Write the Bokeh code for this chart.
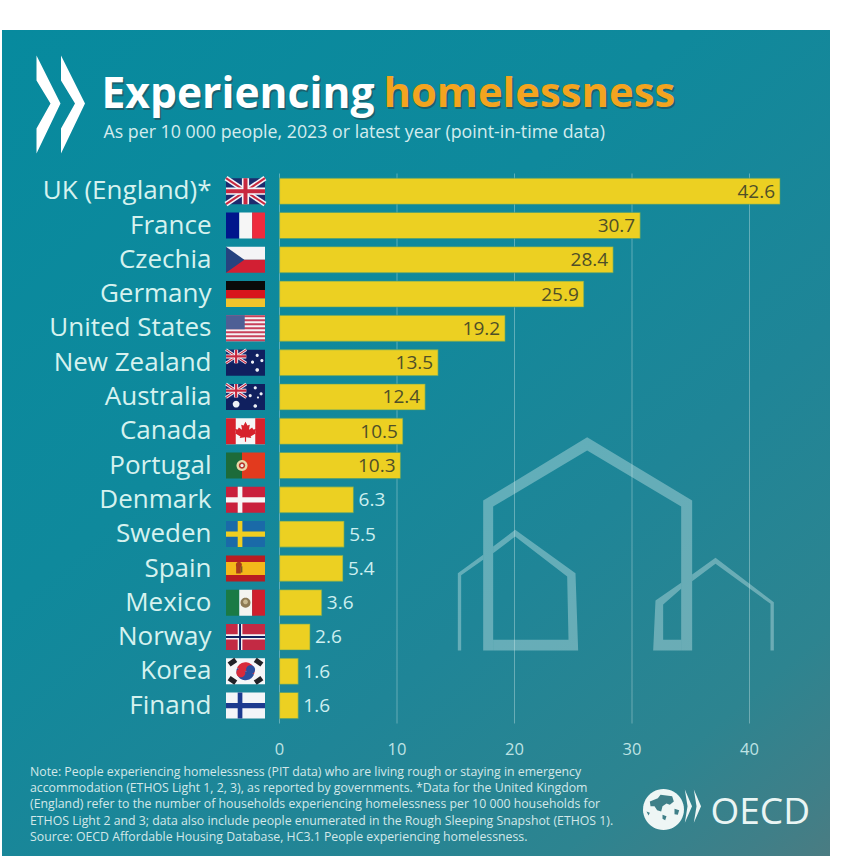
import math
from bokeh.embed import file_html
from bokeh.resources import INLINE
from bokeh.plotting import figure
from bokeh.models import FixedTicker, Label, Range1d

countries = ["UK (England)*", "France", "Czechia", "Germany", "United States", "New Zealand",
             "Australia", "Canada", "Portugal", "Denmark", "Sweden", "Spain", "Mexico",
             "Norway", "Korea", "Finand"]
values = [42.6, 30.7, 28.4, 25.9, 19.2, 13.5, 12.4, 10.5, 10.3, 6.3, 5.5, 5.4, 3.6, 2.6, 1.6, 1.6]
x_ticks = [0, 10, 20, 30, 40]
title_a = "Experiencing"
title_b = "homelessness"
subtitle = "As per 10 000 people, 2023 or latest year (point-in-time data)"
note_lines = [
    "Note: People experiencing homelessness (PIT data) who are living rough or staying in emergency",
    "accommodation (ETHOS Light 1, 2, 3), as reported by governments. *Data for the United Kingdom",
    "(England) refer to the number of households experiencing homelessness per 10 000 households for",
    "ETHOS Light 2 and 3; data also include people enumerated in the Rough Sleeping Snapshot (ETHOS 1).",
    "Source: OECD Affordable Housing Database, HC3.1 People experiencing homelessness.",
]

ZERO_PX, PX_PER_UNIT = 279.0, 11.75
ROW0_PX, ROW_PX = 190.7, 34.29
FONT = "Open Sans"
def X(px): return (px - ZERO_PX) / PX_PER_UNIT
def Y(py): return (py - ROW0_PX) / ROW_PX

rows = list(range(len(countries)))
p = figure(width=850, height=859, output_backend="svg", toolbar_location=None,
           x_range=Range1d(X(0), X(850)), y_range=Range1d(Y(859), Y(0)),
           min_border=0, min_border_left=0, min_border_right=0, min_border_top=0, min_border_bottom=0)
p.outline_line_color = None
p.background_fill_alpha = 0
p.border_fill_alpha = 0
p.styles = {
    "background": "linear-gradient(140deg,#078a9e 0%,#0f899c 38%,#1f8597 65%,#2d8490 85%,#3f7f88 95%,#4a7c82 100%) no-repeat",
    "background-size": "828px 826px",
    "background-position": "2px 30px",
}

# axes live inside the frame
xa = p.xaxis[0]
xa.fixed_location = Y(734)
xa.ticker = FixedTicker(ticks=x_ticks)
xa.axis_line_color = None
xa.major_tick_line_color = None
xa.minor_tick_line_color = None
xa.major_label_text_color = "#bfe3e4"
xa.major_label_text_font = FONT
xa.major_label_text_font_size = "16.5px"
xa.major_label_standoff = 2

LABEL_NUDGE = 0.055
ya = p.yaxis[0]
ya.fixed_location = X(217)
ya.ticker = FixedTicker(ticks=[r - LABEL_NUDGE for r in rows])
ya.major_label_overrides = {r - LABEL_NUDGE: c for r, c in zip(rows, countries)}
ya.axis_line_color = None
ya.major_tick_line_color = None
ya.minor_tick_line_color = None
ya.major_label_text_color = "#d6f2ef"
ya.major_label_text_font = FONT
ya.major_label_text_font_size = "26px"
ya.major_label_standoff = 0

p.ygrid.visible = False
p.xgrid.visible = False
p.segment(x0=x_ticks, x1=x_ticks, y0=Y(173), y1=Y(723), line_color="#cfe8e8", line_alpha=0.4, line_width=1)

# background houses
def hp(pts):
    return [X(440 + a / 3) for a, _ in pts], [Y(420 + b / 3) for _, b in pts]
houses = [
    [(128,690),(128,240),(440,50),(755,240),(755,690),(722,690),(722,258),(440,90),(158,258),(158,690)],
    [(52,690),(52,458),(128,403),(128,418),(62,464),(62,690)],
    [(158,378),(224,328),(405,458),(413,690),(158,690),(158,658),(384,658),(380,468),(224,348),(158,398)],
    [(722,690),(638,690),(645,540),(722,487),(722,505),(668,552),(668,658),(722,658)],
    [(755,462),(825,412),(1000,545),(1000,690),(990,690),(990,550),(825,430),(755,482)],
]
hx, hy = zip(*[hp(h) for h in houses])
p.patches(list(hx), list(hy), fill_color="#d8f0f0", fill_alpha=0.38, line_color=None)

# bars
p.hbar(y=rows, right=values, left=0, height=0.76, fill_color="#ecd022",
       line_color="#3f9a78", line_width=1.2, line_alpha=0.5)

# value labels
inside = [i for i, v in enumerate(values) if v >= 10]
outside = [i for i, v in enumerate(values) if v < 10]
p.text(x=[values[i] for i in inside], y=[rows[i] for i in inside],
       text=[f"{values[i]:.1f}" for i in inside], x_offset=-5, text_align="right",
       text_baseline="middle", text_color="#4f4f28", text_font_size="19px", text_font={"value": FONT})
p.text(x=[values[i] for i in outside], y=[rows[i] for i in outside],
       text=[f"{values[i]:.1f}" for i in outside], x_offset=5, text_align="left",
       text_baseline="middle", text_color="#cdeff0", text_font_size="19px", text_font={"value": FONT})

# flags
FL, FW, FH = 225.5, 39.0, 26.0
fx_, fy_, fc_ = [], [], []
def poly(r, color, pts):
    fx_.append([X(FL + u * FW) for u, _ in pts])
    fy_.append([r + (v - 0.5) * FH / ROW_PX for _, v in pts])
    fc_.append(color)
def rc(r, color, u0, v0, u1, v1):
    poly(r, color, [(u0, v0), (u1, v0), (u1, v1), (u0, v1)])
def disc(r, color, cu, cv, rad, a0=0, a1=360, n=24):
    k = FH / FW
    poly(r, color, [(cu + rad * k * math.cos(math.radians(a0 + (a1 - a0) * i / n)),
                     cv + rad * math.sin(math.radians(a0 + (a1 - a0) * i / n))) for i in range(n + 1)])
def band(r, color, u0, v0, u1, v1, t):
    a = FW * (u1 - u0); b = FH * (v1 - v0); l = math.hypot(a, b)
    du = -b / l * t / FW; dv = a / l * t / FH
    poly(r, color, [(u0 + du, v0 + dv), (u1 + du, v1 + dv), (u1 - du, v1 - dv), (u0 - du, v0 - dv)])
def union(r, u0, v0, u1, v1, s=1.0):
    rc(r, "#1d2b6e", u0, v0, u1, v1)
    band(r, "#f4f4f8", u0, v0, u1, v1, 2.6 * s); band(r, "#f4f4f8", u0, v1, u1, v0, 2.6 * s)
    band(r, "#c8283f", u0, v0, u1, v1, 1.0 * s); band(r, "#c8283f", u0, v1, u1, v0, 1.0 * s)
    cu, cv = (u0 + u1) / 2, (v0 + v1) / 2
    tu, tv = 3.6 * s / FW, 3.6 * s / FH
    rc(r, "#f4f4f8", cu - tu, v0, cu + tu, v1); rc(r, "#f4f4f8", u0, cv - tv, u1, cv + tv)
    tu, tv = 2.0 * s / FW, 2.0 * s / FH
    rc(r, "#c8283f", cu - tu, v0, cu + tu, v1); rc(r, "#c8283f", u0, cv - tv, u1, cv + tv)
def nordic(r, bg, outer, inner=None):
    rc(r, bg, 0, 0, 1, 1)
    rc(r, outer, 0.30, 0, 0.42, 1); rc(r, outer, 0, 0.40, 1, 0.60)
    if inner:
        rc(r, inner, 0.335, 0, 0.385, 1); rc(r, inner, 0, 0.46, 1, 0.54)

union(0, 0, 0, 1, 1)
rc(1, "#00168c", 0, 0, .34, 1); rc(1, "#f6f6f6", .34, 0, .67, 1); rc(1, "#ee2b3d", .67, 0, 1, 1)
rc(2, "#f4f4f6", 0, 0, 1, .5); rc(2, "#d21f33", 0, .5, 1, 1); poly(2, "#26437f", [(0, 0), (.47, .5), (0, 1)])
rc(3, "#0a0a0a", 0, 0, 1, .34); rc(3, "#d8141c", 0, .34, 1, .67); rc(3, "#f1c42c", 0, .67, 1, 1)
rc(4, "#f4f2f4", 0, 0, 1, 1)
for s in range(7):
    rc(4, "#c8405a", 0, s * 2 / 13, 1, (s * 2 + 1) / 13)
rc(4, "#4e5f95", 0, 0, .48, 7 / 13)
for r_, stars in ((5, [(.80, .22, 1.3), (.68, .48, 1.3), (.92, .42, 1.3), (.80, .78, 1.5)]),
                  (6, [(.75, .15, 1.3), (.62, .45, 1.3), (.90, .38, 1.3), (.75, .85, 1.5), (.82, .52, .9), (.26, .78, 2.8)])):
    rc(r_, "#10205f", 0, 0, 1, 1)
    union(r_, 0, 0, .52, .52, .55)
    for su, sv, sr in stars:
        disc(r_, "#eef0f6", su, sv, sr / FH * 1.2)
rc(7, "#f6f6f6", 0, 0, 1, 1); rc(7, "#d6222c", 0, 0, .25, 1); rc(7, "#d6222c", .75, 0, 1, 1)
leaf = [(.5,.14),(.55,.28),(.61,.25),(.59,.44),(.67,.36),(.70,.43),(.77,.41),(.74,.54),(.77,.58),(.63,.70),
        (.65,.76),(.515,.73),(.515,.90),(.485,.90),(.485,.73),(.35,.76),(.37,.70),(.23,.58),(.26,.54),(.23,.41),
        (.30,.43),(.33,.36),(.41,.44),(.39,.25),(.45,.28)]
poly(7, "#d6222c", leaf)
rc(8, "#1d6b3a", 0, 0, .41, 1); rc(8, "#e23a1e", .41, 0, 1, 1)
disc(8, "#e9d9a8", .41, .5, 5.5 / FH); disc(8, "#b8382c", .41, .5, 3.2 / FH); disc(8, "#eef0ee", .41, .5, 1.6 / FH)
nordic(9, "#c9203c", "#f6f6f6")
nordic(10, "#1a6aa8", "#f0ce20")
rc(11, "#b81c22", 0, 0, 1, 1); rc(11, "#f4b81a", 0, .25, 1, .75)
rc(11, "#a93a1c", .26, .36, .38, .70); disc(11, "#a93a1c", .33, .36, 3 / FH); rc(11, "#7a5a20", .38, .42, .42, .66)
rc(12, "#1a7a45", 0, 0, .34, 1); rc(12, "#f4f4f0", .34, 0, .67, 1); rc(12, "#cf1f2e", .67, 0, 1, 1)
disc(12, "#8d7a55", .5, .5, 5 / FH); disc(12, "#c8b890", .5, .47, 2.4 / FH)
nordic(13, "#c32a44", "#f4f4f6", "#12205f")
rc(14, "#f6f6f8", 0, 0, 1, 1)
disc(14, "#d82b3c", .5, .5, 9 / FH, 200, 380); disc(14, "#2a4f9e", .5, .5, 9 / FH, 20, 200)
disc(14, "#d82b3c", .38, .56, 4.5 / FH); disc(14, "#2a4f9e", .63, .44, 4.5 / FH)
for a, b, c, d in ((.08, .24, .25, .06), (.75, .06, .92, .24), (.08, .76, .25, .94), (.75, .94, .92, .76)):
    band(14, "#222228", a, b, c, d, 2.6)
nordic(15, "#f4f5f8", "#1d3a8f")
p.patches(fx_, fy_, fill_color=fc_, line_color=None)

# OECD chevrons (header)
def deco(pts, color, alpha=1.0):
    p.patch([X(a) for a, _ in pts], [Y(b) for _, b in pts], fill_color=color, fill_alpha=alpha, line_color=None)
for dx in (0, 24.5):
    deco([(36 + dx, 55), (60 + dx, 103), (36 + dx, 153), (36 + dx, 128), (50 + dx, 103), (36 + dx, 80)], "#ffffff")

# OECD logo
cx, cy, cr = 663, 809, 20.5
p.patch([X(cx + cr * math.cos(t * math.pi / 24)) for t in range(48)],
        [Y(cy + cr * math.sin(t * math.pi / 24)) for t in range(48)], fill_color="#eef6f5", line_color=None)
def lg(pts):
    return [(630 + a / 3, 775 + b / 3) for a, b in pts]
LAND = "#3f7f88"
deco(lg([(58,78),(82,68),(90,58),(125,62),(130,78),(118,88),(108,84),(96,92),(92,108),(80,104),(72,92),(60,92)]), LAND)
deco(lg([(96,118),(108,122),(104,134),(96,130)]), LAND)
deco(lg([(132,100),(146,104),(142,118),(132,116)]), LAND)
deco(lg([(48,108),(58,112),(54,120)]), LAND)
for a, b in ((163, 190), (190, 217)):
    w = b - a
    deco(lg([(a, 42), (a + w * .8, 92), (a, 142), (a + w * .3, 92)]), "#eef6f5")

def label(px, py, text, size, color, bold=False, align="left", alpha=1.0, baseline="middle"):
    p.add_layout(Label(x=X(px), y=Y(py), text=text, text_font=FONT, text_font_size=size, text_color=color,
                       text_font_style="bold" if bold else "normal", text_align=align,
                       text_baseline=baseline, text_alpha=alpha))

label(102.5, 92, title_a, "42.6px", "#1c5a66", bold=True, alpha=0.85)
label(384.5, 92, title_b, "41.8px", "#1c5a66", bold=True, alpha=0.85)
label(101, 90, title_a, "42.6px", "#ffffff", bold=True)
label(383, 90, title_b, "41.8px", "#f3a41f", bold=True)
label(103, 130, subtitle, "17.8px", "#d4ecee")
for i, line in enumerate(note_lines):
    label(29.5, 771 + i * 16.2, line, "12.3px", "#d3e8e9")
label(710, 809, "OECD", "37px", "#eaf5f4")

open("out.html", "w").write(file_html(p, INLINE))
